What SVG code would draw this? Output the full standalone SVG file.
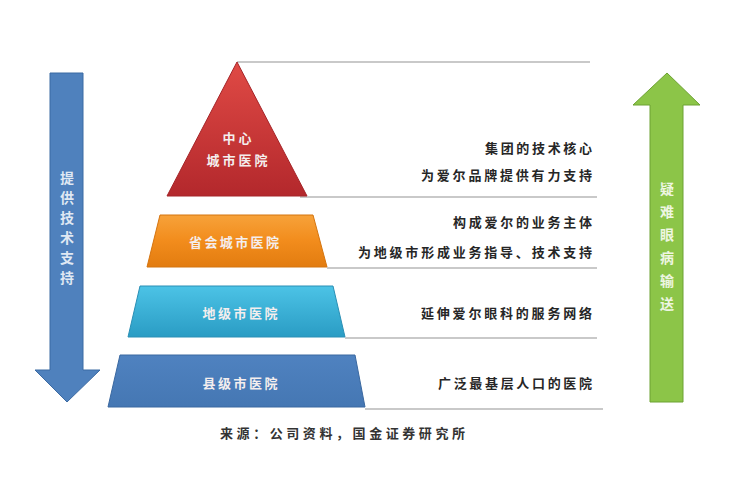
<svg xmlns="http://www.w3.org/2000/svg" width="736" height="480" viewBox="0 0 736 480">
<defs>
<linearGradient id="gRed" x1="0" y1="0" x2="0" y2="1"><stop offset="0" stop-color="#e04a45"/><stop offset="1" stop-color="#b3282c"/></linearGradient>
<linearGradient id="gOrange" x1="0" y1="0" x2="0" y2="1"><stop offset="0" stop-color="#f7a23a"/><stop offset="0.5" stop-color="#f28c1c"/><stop offset="1" stop-color="#e27c10"/></linearGradient>
<linearGradient id="gCyan" x1="0" y1="0" x2="0" y2="1"><stop offset="0" stop-color="#4cc3e6"/><stop offset="1" stop-color="#2a9cc4"/></linearGradient>
<linearGradient id="gBlue" x1="0" y1="0" x2="0" y2="1"><stop offset="0" stop-color="#4f82c0"/><stop offset="1" stop-color="#4577b3"/></linearGradient>
<style>
.sep{stroke:#c9c9c9;stroke-width:2;fill:none}
.desc{font-family:"Noto Sans CJK SC",sans-serif;font-size:13px;font-weight:bold;fill:#262626}
.lvl{font-family:"Noto Sans CJK SC",sans-serif;font-size:13px;font-weight:bold;fill:#f4eeee;text-anchor:middle}
.arrtxt{font-family:"Noto Sans CJK SC",sans-serif;font-size:14px;font-weight:bold;text-anchor:middle}
.cap{font-family:"Noto Sans CJK SC",sans-serif;font-size:13px;font-weight:bold;fill:#333}
</style>
</defs>
<rect width="736" height="480" fill="#ffffff"/>

<g id="connectors">
<line class="sep" x1="237" y1="62" x2="590" y2="62"/>
<line class="sep" x1="300" y1="197" x2="597" y2="197"/>
<line class="sep" x1="327" y1="268" x2="597" y2="268"/>
<line class="sep" x1="345" y1="338" x2="597" y2="338"/>
<line class="sep" x1="365" y1="409" x2="603" y2="409"/>
</g>

<g id="arrow-down">
<polygon points="50,73 83,73 83,370 100,370 67,402 35,370 50,370" fill="#4f81bd" stroke="#3b6aa3" stroke-width="1"/>
<text class="arrtxt" fill="#dfe8f3" x="67" y="183">提</text>
<text class="arrtxt" fill="#dfe8f3" x="67" y="203">供</text>
<text class="arrtxt" fill="#dfe8f3" x="67" y="223">技</text>
<text class="arrtxt" fill="#dfe8f3" x="67" y="243">术</text>
<text class="arrtxt" fill="#dfe8f3" x="67" y="263">支</text>
<text class="arrtxt" fill="#dfe8f3" x="67" y="283">持</text>
</g>

<g id="arrow-up">
<polygon points="667,73 700,105 683,105 683,402 650,402 650,105 633,105" fill="#8cc548" stroke="#6da232" stroke-width="1"/>
<text class="arrtxt" fill="#eef6e2" x="667" y="194">疑</text>
<text class="arrtxt" fill="#eef6e2" x="667" y="217">难</text>
<text class="arrtxt" fill="#eef6e2" x="667" y="240">眼</text>
<text class="arrtxt" fill="#eef6e2" x="667" y="263">病</text>
<text class="arrtxt" fill="#eef6e2" x="667" y="286">输</text>
<text class="arrtxt" fill="#eef6e2" x="667" y="309">送</text>
</g>

<g id="level-1">
<polygon points="237,62 307,196 167,196" fill="url(#gRed)" stroke="#a52428" stroke-width="1"/>
<text class="lvl" x="237" y="143" textLength="29" lengthAdjust="spacing">中心</text>
<text class="lvl" x="237" y="165" textLength="61" lengthAdjust="spacing">城市医院</text>
</g>

<g id="level-2">
<polygon points="160,215 313,215 327,267 147,267" fill="url(#gOrange)" stroke="#d4740f" stroke-width="1"/>
<text class="lvl" x="234" y="247" textLength="90" lengthAdjust="spacing">省会城市医院</text>
</g>

<g id="level-3">
<polygon points="140,286 333,286 345,337 128,337" fill="url(#gCyan)" stroke="#2a8fb5" stroke-width="1"/>
<text class="lvl" x="240" y="318" textLength="75" lengthAdjust="spacing">地级市医院</text>
</g>

<g id="level-4">
<polygon points="120,355 355,355 365,407 108,407" fill="url(#gBlue)" stroke="#3a68a0" stroke-width="1"/>
<text class="lvl" x="240" y="388" textLength="75" lengthAdjust="spacing">县级市医院</text>
</g>

<g id="descriptions">
<text class="desc" x="485" y="153" textLength="107" lengthAdjust="spacing">集团的技术核心</text>
<text class="desc" x="421" y="180" textLength="171" lengthAdjust="spacing">为爱尔品牌提供有力支持</text>
<text class="desc" x="453" y="227" textLength="139" lengthAdjust="spacing">构成爱尔的业务主体</text>
<text class="desc" x="358" y="257" textLength="234" lengthAdjust="spacing">为地级市形成业务指导、技术支持</text>
<text class="desc" x="421" y="318" textLength="171" lengthAdjust="spacing">延伸爱尔眼科的服务网络</text>
<text class="desc" x="438" y="388" textLength="154" lengthAdjust="spacing">广泛最基层人口的医院</text>
</g>

<text class="cap" x="220" y="438" textLength="245" lengthAdjust="spacing">来源：公司资料，国金证券研究所</text>
</svg>
